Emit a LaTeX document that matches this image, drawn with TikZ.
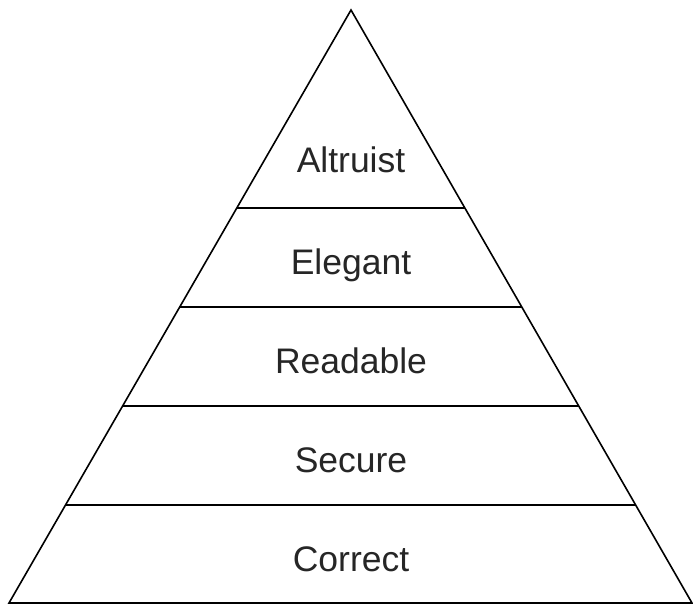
\documentclass[tikz,border=0pt]{standalone}
\usepackage{fontspec}
\setmainfont{Liberation Sans}
\usetikzlibrary{calc}
\tikzset{
  edge/.style={draw=black, line width=1.6pt, line join=miter},
  lvl/.style={anchor=base, inner sep=0pt, font=\fontsize{35.5}{40}\selectfont, text=black!85}
}
\begin{document}
\begin{tikzpicture}[x=1pt,y=-1pt]
\useasboundingbox (0,0) rectangle (693,605);
\coordinate (apex) at (351,10);
\coordinate (bl) at (9,603);
\coordinate (br) at (692,603);
\draw[edge] (apex) -- (bl) -- (br) -- cycle;
\foreach \t/\n in {0.3339/a,0.5008/b,0.6678/c,0.8347/d}{
  \coordinate (l\n) at ($(apex)!\t!(bl)$);
  \coordinate (r\n) at ($(apex)!\t!(br)$);
  \draw[edge] (l\n) -- (r\n);
}
\node[lvl] (altruist) at (351,172) {Altruist};
\node[lvl] (elegant) at (351,274) {Elegant};
\node[lvl] (readable) at (351,373) {Readable};
\node[lvl] (secure) at (351,472) {Secure};
\node[lvl] (correct) at (351,571) {Correct};
\end{tikzpicture}
\end{document}
